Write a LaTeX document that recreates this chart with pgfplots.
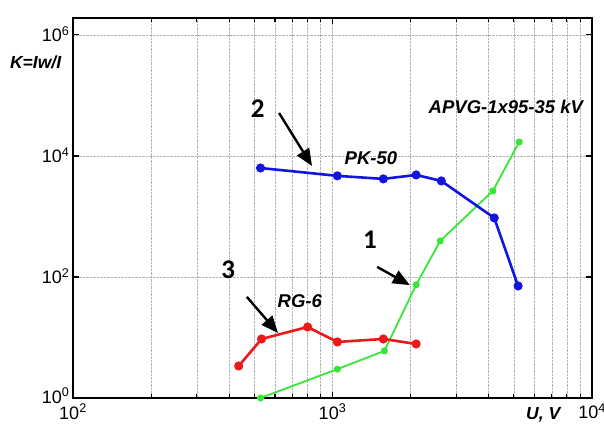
\documentclass[border=0pt]{standalone}
\usepackage{fontspec}
\setmainfont{Liberation Sans}
\newfontfamily\calib{Carlito}
\usepackage{pgfplots}
\pgfplotsset{compat=1.18}
\usetikzlibrary{arrows.meta}

\definecolor{cblue}{RGB}{20,20,225}
\definecolor{cred}{RGB}{235,25,25}
\definecolor{cgreen}{RGB}{55,230,55}

\begin{document}
\begin{tikzpicture}[x=1pt,y=1pt]
  \useasboundingbox (-73,-29) rectangle (531,398);
  \begin{loglogaxis}[
    at={(0,0)}, anchor=south west,
    scale only axis,
    width=519pt, height=380pt,
    xmin=100, xmax=10000,
    ymin=1, ymax=1.9e6,
    xtick={100,1000,10000},
    xticklabels={10\textsuperscript{2},10\textsuperscript{3},10\textsuperscript{4}},
    ytick={1,100,10000,1000000},
    yticklabels={\raisebox{3pt}{10\textsuperscript{0}},10\textsuperscript{2},10\textsuperscript{4},10\textsuperscript{6}},
    ticklabel style={font=\fontsize{18}{18}\selectfont},
    xticklabel style={yshift=-2.5pt},
    yticklabel style={yshift=1pt},
    xmajorgrids, xminorgrids, ymajorgrids,
    major grid style={densely dotted, gray!60, line width=0.6pt},
    minor grid style={densely dotted, gray!60, line width=0.6pt},
    axis line style={line width=1.6pt},
    major tick length=6pt, minor tick length=4pt,
    every tick/.style={black, line width=1.2pt},
    clip mode=individual,
  ]

  % 1 -- APVG-1x95-35 kV
  \addplot [cgreen, line width=1.8pt, mark=*, mark size=2.6pt] table {
    528  1.0
    1044 3.0
    1585 6.0
    2100 74
    2600 394
    4150 2640
    5240 17000
  };

  % 3 -- RG-6
  \addplot [cred, line width=2.6pt, mark=*, mark size=3.2pt] table {
    435  3.38
    533  9.45
    802  14.9
    1044 8.43
    1570 9.45
    2100 7.81
  };

  % 2 -- PK-50
  \addplot [cblue, line width=2.6pt, mark=*, mark size=3.2pt] table {
    528  6310
    1044 4680
    1570 4170
    2100 4850
    2625 3860
    4200 945
    5190 71
  };

  \begin{scope}[font=\fontsize{18.5}{18.5}\selectfont\bfseries\itshape]
    \node at (rel axis cs:0.574,0.632) {PK-50};
    \node at (rel axis cs:0.437,0.255) {RG-6};
    \node at (rel axis cs:0.834,0.766) {APVG-1x95-35 kV};
  \end{scope}
  \begin{scope}[font=\fontsize{17.5}{17.5}\selectfont\bfseries\itshape]
    \node at (rel axis cs:-0.072,0.884) {K=Iw/I};
    \node at (rel axis cs:0.906,-0.045) {U, V};
  \end{scope}

  \begin{scope}[font=\calib\fontsize{27}{27}\selectfont\bfseries]
    \node at (rel axis cs:0.356,0.761) {2};
    \node at (rel axis cs:0.299,0.337) {3};
    \node at (rel axis cs:0.572,0.416) {1};
  \end{scope}

  \begin{scope}[line width=2.4pt, -{Triangle[length=17pt,width=14pt]}]
    \draw (rel axis cs:0.397,0.750) -- (rel axis cs:0.4605,0.6105);
    \draw (rel axis cs:0.335,0.266) -- (rel axis cs:0.395,0.171);
    \draw (rel axis cs:0.586,0.345) -- (rel axis cs:0.649,0.297);
  \end{scope}
  \end{loglogaxis}
\end{tikzpicture}
\end{document}
